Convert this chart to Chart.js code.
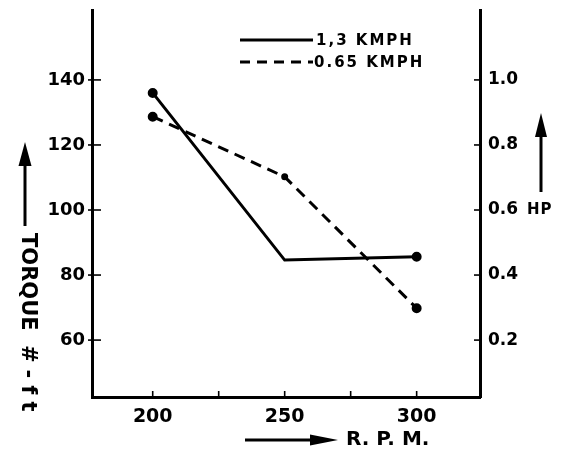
<!DOCTYPE html>
<html>
<head>
<meta charset="utf-8">
<script src="https://cdn.jsdelivr.net/npm/chart.js@4/dist/chart.umd.min.js"></script>
<style>
  html, body { margin: 0; padding: 0; background: #fff; }
  #wrap { width: 564px; height: 452px; }
</style>
</head>
<body>
<div id="wrap"><canvas id="c" width="564" height="452"></canvas></div>
<script>
// ---- data ----
const rpm = [200, 250, 300];
const torque13 = [136, 84.6, 85.6];      // 1,3 KMPH (solid)
const torque065 = [128.7, 110.2, 69.8];  // 0.65 KMPH (dashed)
const seriesLabels = ['1,3 KMPH', '0.65 KMPH'];
const xTickValues = [200, 225, 250, 275, 300];
const xTickLabels = [200, 250, 300];
const leftTicks = [60, 80, 100, 120, 140];
const rightTicks = [0.2, 0.4, 0.6, 0.8, 1.0];
const leftTitleParts = ['TORQUE', '#-ft'];
const rightTitle = 'HP';
const bottomTitle = 'R. P. M.';

const FONT = '"DejaVu Sans", "Liberation Sans", sans-serif';

function arrow(ctx, x1, y1, x2, y2, head, halfW) {
  const ang = Math.atan2(y2 - y1, x2 - x1);
  const bx = x2 - head * Math.cos(ang), by = y2 - head * Math.sin(ang);
  ctx.beginPath();
  ctx.moveTo(x1, y1); ctx.lineTo(bx, by);
  ctx.lineWidth = 3; ctx.strokeStyle = '#000'; ctx.stroke();
  ctx.beginPath();
  ctx.moveTo(x2, y2);
  ctx.lineTo(bx + halfW * Math.sin(ang), by - halfW * Math.cos(ang));
  ctx.lineTo(bx - halfW * Math.sin(ang), by + halfW * Math.cos(ang));
  ctx.closePath(); ctx.fillStyle = '#000'; ctx.fill();
}

const decor = {
  id: 'decor',
  afterDraw(chart) {
    const ctx = chart.ctx;
    const xs = chart.scales.x, ys = chart.scales.y, y2 = chart.scales.y2;
    const ca = chart.chartArea;
    ctx.save();
    ctx.strokeStyle = '#000'; ctx.fillStyle = '#000';
    // tick marks (pointing inward)
    ctx.lineWidth = 1.6;
    xTickValues.forEach(v => {
      const px = xs.getPixelForValue(v);
      ctx.beginPath(); ctx.moveTo(px, ca.bottom); ctx.lineTo(px, ca.bottom - 6); ctx.stroke();
    });
    leftTicks.forEach(v => {
      const py = ys.getPixelForValue(v);
      ctx.beginPath(); ctx.moveTo(ca.left - 4, py); ctx.lineTo(ca.left + 9, py); ctx.stroke();
    });
    rightTicks.forEach(v => {
      const py = y2.getPixelForValue(v);
      ctx.beginPath(); ctx.moveTo(ca.right + 1, py); ctx.lineTo(ca.right - 6, py); ctx.stroke();
    });
    // legend
    const lx1 = 240, lx2 = 313;
    ctx.lineWidth = 3;
    ctx.setLineDash([]);
    ctx.beginPath(); ctx.moveTo(lx1, 40); ctx.lineTo(lx2, 40); ctx.stroke();
    ctx.setLineDash([10, 7]);
    ctx.beginPath(); ctx.moveTo(lx1, 62); ctx.lineTo(lx2, 62); ctx.stroke();
    ctx.setLineDash([]);
    ctx.font = 'bold 15px ' + FONT;
    ctx.textBaseline = 'middle'; ctx.textAlign = 'left';
    ctx.letterSpacing = '2px';
    ctx.fillText(seriesLabels[0], 316, 41);
    ctx.fillText(seriesLabels[1], 314, 63);
    // left title (rotated) and arrow
    ctx.save();
    ctx.translate(27, 233);
    ctx.rotate(Math.PI / 2);
    ctx.font = 'bold 21px ' + FONT;
    ctx.letterSpacing = '0px';
    ctx.textAlign = 'left'; ctx.textBaseline = 'middle';
    ctx.fillText(leftTitleParts[0], 0, 0);
    ctx.letterSpacing = '7px';
    ctx.fillText(leftTitleParts[1], 112, 0);
    ctx.restore();
    arrow(ctx, 25, 226, 25, 142, 24, 6.5);
    // right title and arrow
    ctx.letterSpacing = '1px';
    ctx.font = 'bold 15px ' + FONT;
    ctx.textAlign = 'left'; ctx.textBaseline = 'middle';
    ctx.fillText(rightTitle, 527, 210);
    arrow(ctx, 541, 192, 541, 113, 24, 6);
    // bottom title and arrow
    ctx.font = 'bold 20px ' + FONT;
    ctx.letterSpacing = '0px';
    ctx.fillText(bottomTitle, 346, 440);
    arrow(ctx, 245, 440, 338, 440, 28, 5.5);
    ctx.restore();
  }
};

new Chart(document.getElementById('c'), {
  type: 'line',
  data: {
    datasets: [
      {
        label: seriesLabels[0],
        data: rpm.map((x, i) => ({ x: x, y: torque13[i] })),
        borderColor: '#000', backgroundColor: '#000',
        borderWidth: 3, pointRadius: [3.5, 0, 3.5], pointHoverRadius: 3.5,
        tension: 0, fill: false, yAxisID: 'y'
      },
      {
        label: seriesLabels[1],
        data: rpm.map((x, i) => ({ x: x, y: torque065[i] })),
        borderColor: '#000', backgroundColor: '#000',
        borderWidth: 3, borderDash: [11, 7], pointRadius: [3.5, 2, 3.5], pointHoverRadius: 3.5,
        tension: 0, fill: false, yAxisID: 'y'
      }
    ]
  },
  options: {
    responsive: false,
    animation: false,
    devicePixelRatio: 1,
    layout: { padding: { top: 10, left: 0, right: 0, bottom: 0 } },
    plugins: { legend: { display: false }, tooltip: { enabled: false } },
    scales: {
      x: {
        type: 'linear', min: 177, max: 324,
        afterBuildTicks: s => { s.ticks = xTickLabels.map(v => ({ value: v })); },
        afterFit: s => { s.height = 55; s.paddingLeft = 0; s.paddingRight = 0; },
        grid: { display: false, drawTicks: false },
        border: { display: true, color: '#000', width: 3 },
        ticks: { color: '#000', padding: 9, font: { family: FONT, weight: 'bold', size: 19 }, maxRotation: 0 }
      },
      y: {
        type: 'linear', position: 'left', min: 42.5, max: 161.5,
        afterBuildTicks: s => { s.ticks = leftTicks.map(v => ({ value: v })); },
        afterFit: s => { s.width = 92; s.paddingTop = 0; s.paddingBottom = 0; },
        grid: { display: false, drawTicks: false },
        border: { display: true, color: '#000', width: 3 },
        ticks: { color: '#000', padding: 7, font: { family: FONT, weight: 'bold', size: 18 } }
      },
      y2: {
        type: 'linear', position: 'right', min: 0.025, max: 1.215,
        afterBuildTicks: s => { s.ticks = rightTicks.map(v => ({ value: v })); },
        afterFit: s => { s.width = 84; s.paddingTop = 0; s.paddingBottom = 0; },
        grid: { display: false, drawTicks: false },
        border: { display: true, color: '#000', width: 3 },
        ticks: { color: '#000', padding: 8, font: { family: FONT, weight: 'bold', size: 17 },
                 callback: v => v.toFixed(1) }
      }
    }
  },
  plugins: [decor]
});
</script>
</body>
</html>
